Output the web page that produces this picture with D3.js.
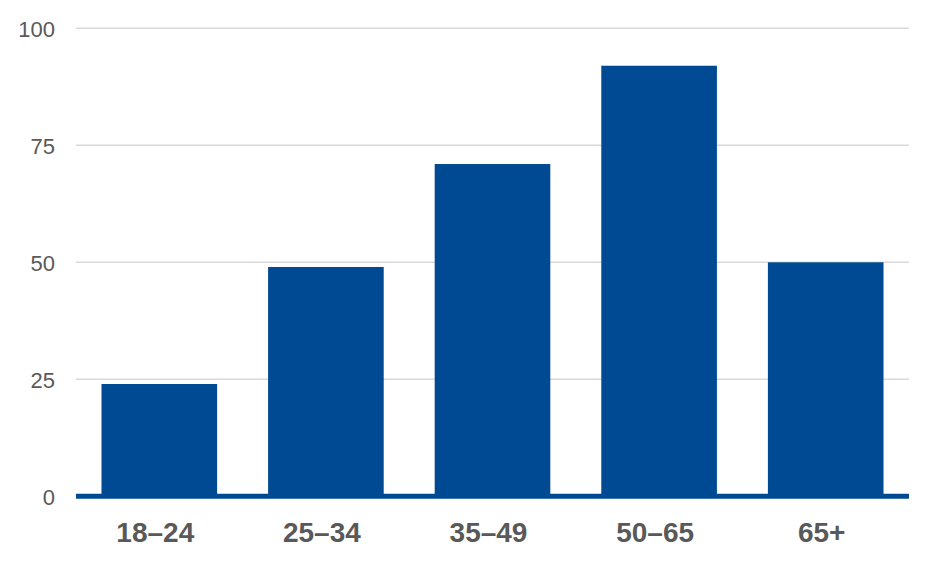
<!DOCTYPE html>
<html>
<head>
<meta charset="utf-8">
<script src="https://cdn.jsdelivr.net/npm/d3@7"></script>
<style>
  html, body { margin: 0; padding: 0; background: #fff; }
  svg { display: block; }
</style>
</head>
<body>
<svg id="chart" width="940" height="564"></svg>
<script>
const categories = ["18–24", "25–34", "35–49", "50–65", "65+"];
const values = [24, 49, 71, 92, 50];
const yTicks = [0, 25, 50, 75, 100];

const svg = d3.select("#chart");
const plotLeft = 76, plotRight = 909, plotTop = 28.3, plotBottom = 496.3;

const x = d3.scaleBand().domain(categories).range([plotLeft, plotRight])
  .paddingInner(0.306).paddingOuter(0.153);
const y = d3.scaleLinear().domain([0, 100]).range([plotBottom, plotTop]);

// gridlines
svg.append("g").selectAll("line")
  .data(yTicks.filter(d => d > 0))
  .join("line")
  .attr("x1", plotLeft).attr("x2", plotRight)
  .attr("y1", d => y(d)).attr("y2", d => y(d))
  .attr("stroke", "#d9d9d9").attr("stroke-width", 1.5);

// y axis labels
const yAxis = d3.axisLeft(y).tickValues(yTicks).tickSize(0).tickPadding(0);
const gy = svg.append("g").attr("transform", `translate(55,0)`).call(yAxis);
gy.select(".domain").remove();
gy.selectAll("text")
  .attr("font-family", "Liberation Sans, Arial, sans-serif")
  .attr("font-size", 22)
  .attr("fill", "#595959")
  .attr("dy", "0.35em");

// bars
svg.append("g").selectAll("rect")
  .data(values)
  .join("rect")
  .attr("x", (d, i) => x(categories[i]))
  .attr("width", x.bandwidth())
  .attr("y", d => y(d))
  .attr("height", d => y(0) - y(d))
  .attr("fill", "#004a93");

// baseline
svg.append("line")
  .attr("x1", plotLeft).attr("x2", plotRight)
  .attr("y1", y(0)).attr("y2", y(0))
  .attr("stroke", "#004a93").attr("stroke-width", 5);

// x labels
const xAxis = d3.axisBottom(x).tickSize(0).tickPadding(0);
const gx = svg.append("g").attr("transform", `translate(-4,541.7)`).call(xAxis);
gx.select(".domain").remove();
gx.selectAll("text")
  .attr("y", 0).attr("dy", 0)
  .attr("font-family", "Liberation Sans, Arial, sans-serif")
  .attr("font-size", 28)
  .attr("font-weight", "bold")
  .attr("fill", "#595959");
</script>
</body>
</html>
